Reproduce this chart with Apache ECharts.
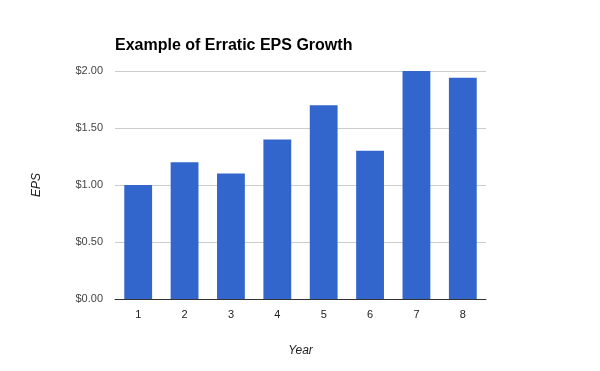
<!DOCTYPE html>
<html>
<head>
<meta charset="utf-8">
<script src="https://cdn.jsdelivr.net/npm/echarts@6/dist/echarts.min.js"></script>
<style>html,body{margin:0;padding:0;background:#fff}#c{width:600px;height:371px}</style>
</head>
<body>
<div id="c"></div>
<script>
var categories = ['1','2','3','4','5','6','7','8'];
var eps = [1.00, 1.20, 1.10, 1.40, 1.70, 1.30, 2.00, 1.94];
var yTicks = [0, 0.5, 1.0, 1.5, 2.0];

var chart = echarts.init(document.getElementById('c'), null, {renderer:'canvas'});
var font = 'Liberation Sans, Arial, sans-serif';
chart.setOption({
  animation: false,
  backgroundColor: '#ffffff',
  title: {
    text: 'Example of Erratic EPS Growth',
    left: 110, top: 33,
    textStyle: {fontFamily: font, fontSize: 16, fontWeight: 'bold', color: '#000'}
  },
  grid: {left: 115, right: 114, top: 71, bottom: 72, containLabel: false},
  xAxis: {
    type: 'category',
    data: categories,
    name: 'Year',
    nameLocation: 'middle',
    nameGap: 46,
    nameTextStyle: {fontFamily: font, fontSize: 12, fontStyle: 'italic', color: '#222'},
    axisLine: {lineStyle: {color: '#333', width: 1}},
    axisTick: {show: false},
    axisLabel: {fontFamily: font, fontSize: 11, color: '#222', margin: 10}
  },
  yAxis: {
    type: 'value',
    min: yTicks[0], max: yTicks[yTicks.length-1], interval: 0.5,
    name: 'EPS',
    nameLocation: 'middle',
    nameGap: 72,
    nameRotate: 90,
    nameTextStyle: {fontFamily: font, fontSize: 12, fontStyle: 'italic', color: '#222'},
    axisLine: {show: false},
    axisTick: {show: false},
    splitLine: {lineStyle: {color: '#cccccc', width: 1}},
    axisLabel: {
      fontFamily: font, fontSize: 11, color: '#444', margin: 12,
      formatter: function(v){ return '$' + v.toFixed(2); }
    }
  },
  series: [{
    type: 'bar',
    data: eps,
    barCategoryGap: '40%',
    itemStyle: {color: '#3366CC'}
  }]
});
</script>
</body>
</html>
